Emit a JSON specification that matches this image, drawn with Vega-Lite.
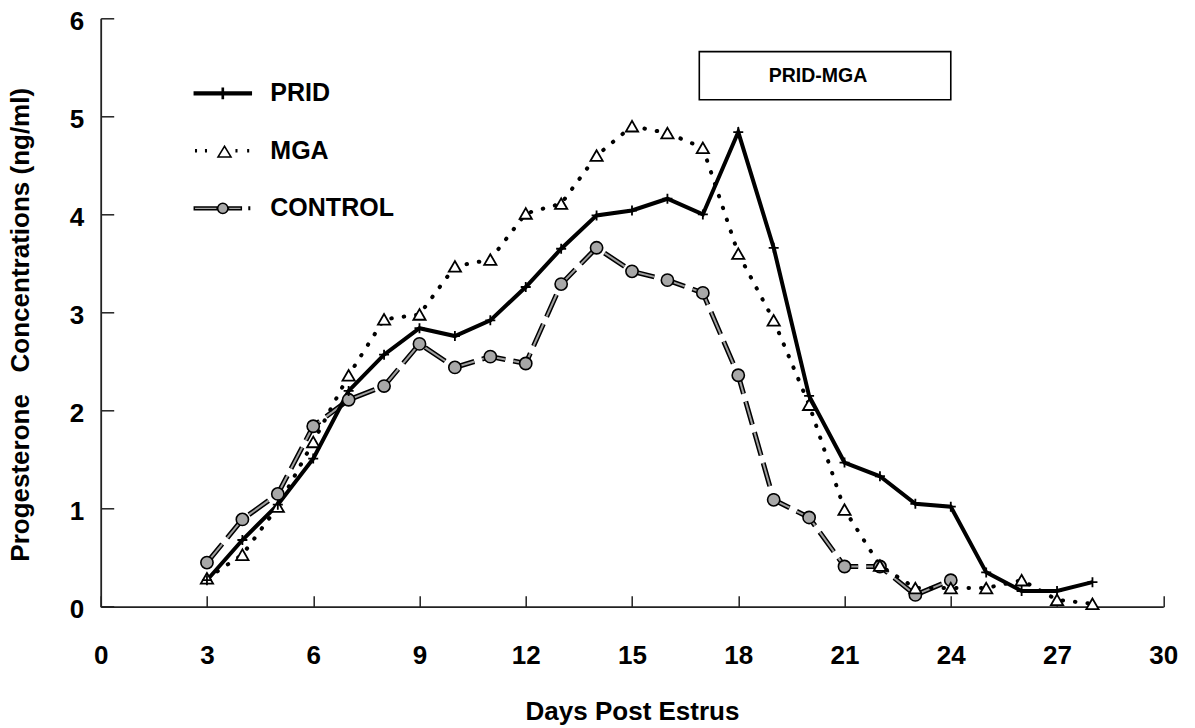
{
  "$schema": "https://vega.github.io/schema/vega-lite/v6.json",
  "width": 1062.6,
  "height": 588.4,
  "autosize": {"type": "none"},
  "padding": {"left": 100.7, "top": 18.3, "right": 31.7, "bottom": 121.3},
  "background": "white",
  "config": {"view": {"stroke": null}},
  "datasets": {
    "progesterone": [
      {"day": 3, "series": "PRID", "value": 0.27},
      {"day": 4, "series": "PRID", "value": 0.68},
      {"day": 5, "series": "PRID", "value": 1.04},
      {"day": 6, "series": "PRID", "value": 1.51},
      {"day": 7, "series": "PRID", "value": 2.2},
      {"day": 8, "series": "PRID", "value": 2.57},
      {"day": 9, "series": "PRID", "value": 2.84},
      {"day": 10, "series": "PRID", "value": 2.76},
      {"day": 11, "series": "PRID", "value": 2.92},
      {"day": 12, "series": "PRID", "value": 3.26},
      {"day": 13, "series": "PRID", "value": 3.65},
      {"day": 14, "series": "PRID", "value": 3.99},
      {"day": 15, "series": "PRID", "value": 4.04},
      {"day": 16, "series": "PRID", "value": 4.16},
      {"day": 17, "series": "PRID", "value": 4.0},
      {"day": 18, "series": "PRID", "value": 4.84},
      {"day": 19, "series": "PRID", "value": 3.66},
      {"day": 20, "series": "PRID", "value": 2.15},
      {"day": 21, "series": "PRID", "value": 1.47},
      {"day": 22, "series": "PRID", "value": 1.33},
      {"day": 23, "series": "PRID", "value": 1.05},
      {"day": 24, "series": "PRID", "value": 1.02},
      {"day": 25, "series": "PRID", "value": 0.35},
      {"day": 26, "series": "PRID", "value": 0.16},
      {"day": 27, "series": "PRID", "value": 0.16},
      {"day": 28, "series": "PRID", "value": 0.25},
      {"day": 3, "series": "MGA", "value": 0.29},
      {"day": 4, "series": "MGA", "value": 0.53},
      {"day": 5, "series": "MGA", "value": 1.02},
      {"day": 6, "series": "MGA", "value": 1.68},
      {"day": 7, "series": "MGA", "value": 2.36},
      {"day": 8, "series": "MGA", "value": 2.93},
      {"day": 9, "series": "MGA", "value": 2.98},
      {"day": 10, "series": "MGA", "value": 3.47},
      {"day": 11, "series": "MGA", "value": 3.54},
      {"day": 12, "series": "MGA", "value": 4.01},
      {"day": 13, "series": "MGA", "value": 4.11},
      {"day": 14, "series": "MGA", "value": 4.6},
      {"day": 15, "series": "MGA", "value": 4.9},
      {"day": 16, "series": "MGA", "value": 4.83},
      {"day": 17, "series": "MGA", "value": 4.68},
      {"day": 18, "series": "MGA", "value": 3.6},
      {"day": 19, "series": "MGA", "value": 2.92},
      {"day": 20, "series": "MGA", "value": 2.06},
      {"day": 21, "series": "MGA", "value": 0.99},
      {"day": 22, "series": "MGA", "value": 0.42},
      {"day": 23, "series": "MGA", "value": 0.19},
      {"day": 24, "series": "MGA", "value": 0.19},
      {"day": 25, "series": "MGA", "value": 0.19},
      {"day": 26, "series": "MGA", "value": 0.27},
      {"day": 27, "series": "MGA", "value": 0.07},
      {"day": 28, "series": "MGA", "value": 0.03},
      {"day": 3, "series": "CONTROL", "value": 0.45},
      {"day": 4, "series": "CONTROL", "value": 0.89},
      {"day": 5, "series": "CONTROL", "value": 1.15},
      {"day": 6, "series": "CONTROL", "value": 1.84},
      {"day": 7, "series": "CONTROL", "value": 2.11},
      {"day": 8, "series": "CONTROL", "value": 2.25},
      {"day": 9, "series": "CONTROL", "value": 2.68},
      {"day": 10, "series": "CONTROL", "value": 2.44},
      {"day": 11, "series": "CONTROL", "value": 2.55},
      {"day": 12, "series": "CONTROL", "value": 2.48},
      {"day": 13, "series": "CONTROL", "value": 3.29},
      {"day": 14, "series": "CONTROL", "value": 3.66},
      {"day": 15, "series": "CONTROL", "value": 3.42},
      {"day": 16, "series": "CONTROL", "value": 3.33},
      {"day": 17, "series": "CONTROL", "value": 3.2},
      {"day": 18, "series": "CONTROL", "value": 2.36},
      {"day": 19, "series": "CONTROL", "value": 1.09},
      {"day": 20, "series": "CONTROL", "value": 0.91},
      {"day": 21, "series": "CONTROL", "value": 0.41},
      {"day": 22, "series": "CONTROL", "value": 0.41},
      {"day": 23, "series": "CONTROL", "value": 0.12},
      {"day": 24, "series": "CONTROL", "value": 0.27}
    ],
    "annotation": [
      {"start": 16.9, "end": 24, "low": 5.17, "high": 5.66, "label_day": 20.25, "label_level": 5.41, "label": "PRID-MGA"}
    ]
  },
  "data": {"name": "progesterone"},
  "encoding": {
    "x": {
      "field": "day",
      "type": "quantitative",
      "scale": {"domain": [0, 30], "nice": false, "zero": false},
      "axis": {
        "title": "Days Post Estrus",
        "values": [0, 3, 6, 9, 12, 15, 18, 21, 24, 27, 30],
        "grid": false,
        "tickSize": -11,
        "tickWidth": 1.5,
        "tickColor": "#222222",
        "domainColor": "#222222",
        "domainWidth": 1.8,
        "labelFont": "Liberation Sans",
        "labelFontSize": 26,
        "labelFontWeight": "bold",
        "labelColor": "black",
        "labelPadding": 47,
        "labelFlush": false,
        "labelOverlap": false,
        "titleFont": "Liberation Sans",
        "titleFontSize": 26,
        "titleFontWeight": "bold",
        "titleColor": "black",
        "titlePadding": 30
      }
    },
    "y": {
      "field": "value",
      "type": "quantitative",
      "scale": {"domain": [0, 6], "nice": false},
      "axis": {
        "title": "Progesterone\u00a0\u00a0 Concentrations (ng/ml)",
        "values": [0, 1, 2, 3, 4, 5, 6],
        "grid": false,
        "tickSize": -13,
        "tickWidth": 1.5,
        "tickColor": "#222222",
        "domainColor": "#222222",
        "domainWidth": 1.8,
        "labelFont": "Liberation Sans",
        "labelFontSize": 26,
        "labelFontWeight": "bold",
        "labelColor": "black",
        "labelPadding": 30,
        "labelOffset": 3,
        "labelFlush": false,
        "labelOverlap": false,
        "titleFont": "Liberation Sans",
        "titleFontSize": 26,
        "titleFontWeight": "bold",
        "titleColor": "black",
        "titlePadding": 36,
        "titleY": 306
      }
    }
  },
  "layer": [
    {
      "transform": [{"filter": "datum.series === 'CONTROL'"}],
      "mark": {"type": "line", "color": "black", "strokeWidth": 5, "strokeDash": [24, 8]}
    },
    {
      "transform": [{"filter": "datum.series === 'CONTROL'"}],
      "mark": {"type": "line", "color": "#a0a0a0", "strokeWidth": 2, "strokeDash": [24, 8]}
    },
    {
      "transform": [{"filter": "datum.series === 'MGA'"}],
      "mark": {"type": "line", "color": "black", "strokeWidth": 4, "strokeDash": [0.5, 12], "strokeCap": "round"}
    },
    {
      "transform": [{"filter": "datum.series === 'PRID'"}],
      "mark": {"type": "line", "color": "black", "strokeWidth": 4}
    },
    {
      "transform": [{"filter": "datum.series === 'CONTROL'"}],
      "mark": {"type": "point", "shape": "circle", "size": 150, "filled": false, "fill": "#a8a8a8", "stroke": "black", "strokeWidth": 1.6, "opacity": 1}
    },
    {
      "transform": [{"filter": "datum.series === 'MGA'"}],
      "mark": {"type": "point", "shape": "triangle-up", "size": 150, "filled": false, "fill": "white", "stroke": "black", "strokeWidth": 1.8, "opacity": 1}
    },
    {
      "transform": [{"filter": "datum.series === 'PRID'"}],
      "mark": {"type": "point", "shape": "M-1,0L1,0M0,-1L0,1", "size": 100, "filled": false, "stroke": "black", "strokeWidth": 1.8, "opacity": 1}
    },
    {
      "data": {"name": "annotation"},
      "mark": {"type": "rect", "fill": "white", "stroke": "black", "strokeWidth": 1.6},
      "encoding": {
        "x": {"field": "start", "type": "quantitative"},
        "x2": {"field": "end"},
        "y": {"field": "high", "type": "quantitative"},
        "y2": {"field": "low"}
      }
    },
    {
      "data": {"name": "annotation"},
      "mark": {"type": "text", "font": "Liberation Sans", "fontSize": 19.5, "fontWeight": "bold", "color": "black", "align": "center", "baseline": "middle"},
      "encoding": {
        "x": {"field": "label_day", "type": "quantitative"},
        "y": {"field": "label_level", "type": "quantitative"},
        "text": {"field": "label"}
      }
    },
    {
      "transform": [{"filter": "datum.day < 0"}],
      "mark": {"type": "point", "filled": true, "opacity": 1, "size": 3249},
      "encoding": {
        "shape": {
          "field": "series",
          "type": "nominal",
          "scale": {
            "domain": ["PRID", "MGA", "CONTROL"],
            "range": [
              "M-1,-0.05L1,-0.05L1,0.05L-1,0.05ZM-0.02,-0.18L0.02,-0.18L0.02,0.18L-0.02,0.18Z",
              "M-0.95,-0.06L-0.95,0.06M-0.93,-0.06L-0.93,0.06M-0.6,-0.06L-0.6,0.06M-0.58,-0.06L-0.58,0.06M0.06,-0.16L0.29,0.22L-0.17,0.22ZM0.47,-0.06L0.47,0.06M0.49,-0.06L0.49,0.06M0.88,-0.06L0.88,0.06M0.9,-0.06L0.9,0.06",
              "M-1,-0.05L-0.2,-0.05L-0.2,0.05L-1,0.05ZM0.2,-0.05L0.65,-0.05L0.65,0.05L0.2,0.05ZM0.18,0A0.18,0.18,0,1,1,-0.18,0A0.18,0.18,0,1,1,0.18,0ZM0.92,-0.07L0.92,0.07M0.94,-0.07L0.94,0.07"
            ]
          },
          "legend": {
            "title": null,
            "orient": "none",
            "legendX": 92.6,
            "legendY": 45.5,
            "padding": 0,
            "rowPadding": 14.5,
            "symbolSize": 3249,
            "symbolStrokeColor": "black",
            "symbolStrokeWidth": 1.5,
            "symbolOpacity": 1,
            "labelFont": "Liberation Sans",
            "labelFontSize": 25,
            "labelFontWeight": "bold",
            "labelColor": "black",
            "labelOffset": 18,
            "labelLimit": 400,
            "encode": {"symbols": {"update": {"stroke": {"value": "black"}, "strokeWidth": {"value": 1.5}}}}
          }
        },
        "fill": {
          "field": "series",
          "type": "nominal",
          "scale": {"domain": ["PRID", "MGA", "CONTROL"], "range": ["black", "white", "#a8a8a8"]},
          "legend": {
            "title": null,
            "orient": "none",
            "legendX": 92.6,
            "legendY": 45.5,
            "padding": 0,
            "rowPadding": 14.5,
            "symbolSize": 3249,
            "symbolStrokeColor": "black",
            "symbolStrokeWidth": 1.5,
            "symbolOpacity": 1,
            "labelFont": "Liberation Sans",
            "labelFontSize": 25,
            "labelFontWeight": "bold",
            "labelColor": "black",
            "labelOffset": 18,
            "labelLimit": 400,
            "encode": {"symbols": {"update": {"stroke": {"value": "black"}, "strokeWidth": {"value": 1.5}}}}
          }
        }
      }
    }
  ]
}
